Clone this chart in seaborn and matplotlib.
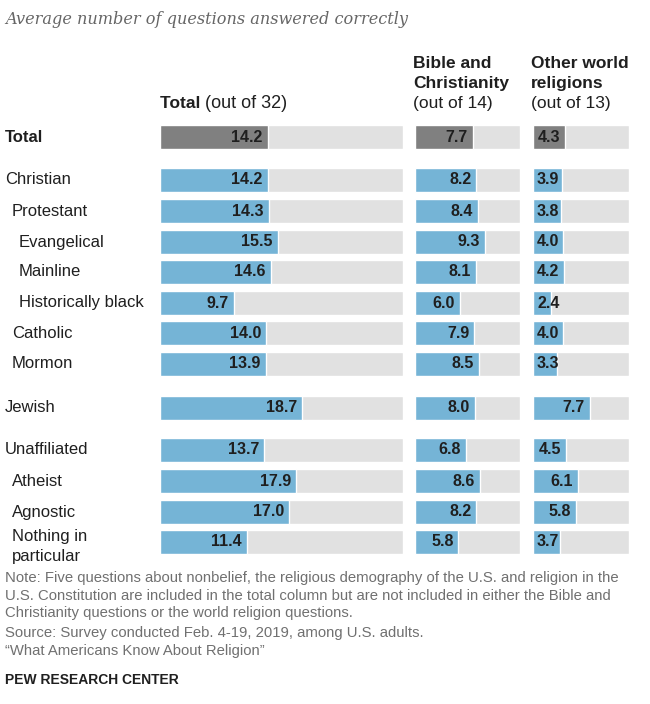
import matplotlib
matplotlib.use("Agg")
import matplotlib.pyplot as plt
import pandas as pd
import seaborn as sns

# data
groups = ["Total", "Christian", "Protestant", "Evangelical", "Mainline",
          "Historically black", "Catholic", "Mormon", "Jewish",
          "Unaffiliated", "Atheist", "Agnostic", "Nothing in\nparticular"]
total_score = [14.2, 14.2, 14.3, 15.5, 14.6, 9.7, 14.0, 13.9, 18.7, 13.7, 17.9, 17.0, 11.4]
bible_score = [7.7, 8.2, 8.4, 9.3, 8.1, 6.0, 7.9, 8.5, 8.0, 6.8, 8.6, 8.2, 5.8]
world_score = [4.3, 3.9, 3.8, 4.0, 4.2, 2.4, 4.0, 3.3, 7.7, 4.5, 6.1, 5.8, 3.7]
out_of = [32, 14, 13]

# layout (pixels from top/left of a 650x704 figure)
row_y = [137, 180, 211, 242, 272, 303, 333, 364, 408, 450, 481, 512, 542]
indent = [5, 5, 12, 19, 19, 19, 12, 12, 5, 5, 12, 12, 12]
cols_px = [(160, 403), (415, 520), (533, 629)]

W, H = 650, 704
BLUE = "#75b4d6"
DARK = "#808080"
BG = "#e1e1e1"
TXT = "#1f1f1f"

sns.set_style("white")
plt.rcParams["font.family"] = ["Liberation Sans", "DejaVu Sans"]

df = pd.DataFrame({"group": groups, "y": row_y,
                   "total": total_score, "bible": bible_score, "world": world_score})
df["kind"] = ["total"] + ["group"] * (len(groups) - 1)
df["full"] = 0.0

fig = plt.figure(figsize=(W / 100, H / 100), dpi=100)


def fx(x):
    return x / W


def fy(y):
    return 1 - y / H


for (x0, x1), col, mx in zip(cols_px, ["total", "bible", "world"], out_of):
    ax = fig.add_axes([fx(x0), 0, (x1 - x0) / W, 1])
    df["full"] = mx
    sns.barplot(data=df, x="full", y="y", orient="h", native_scale=True,
                color=BG, saturation=1, width=0.77, errorbar=None, ax=ax)
    sns.barplot(data=df, x=col, y="y", hue="kind", orient="h", native_scale=True,
                palette={"total": DARK, "group": BLUE}, saturation=1, width=0.77,
                dodge=False, legend=False, errorbar=None, ax=ax)
    ax.set_xlim(0, mx)
    ax.set_ylim(H, 0)
    ax.axis("off")
    px_per = (x1 - x0) / mx
    for v, y in zip(df[col], df["y"]):
        if v * px_per < 30:
            ax.annotate(f"{v:.1f}", xy=(0, y), xytext=(4, 0), textcoords="offset pixels",
                        ha="left", va="center", fontsize=11.5, fontweight="bold", color=TXT)
        else:
            ax.annotate(f"{v:.1f}", xy=(v, y), xytext=(-5, 0), textcoords="offset pixels",
                        ha="right", va="center", fontsize=11.5, fontweight="bold", color=TXT)

# row labels
for g, y, x in zip(groups, row_y, indent):
    if "\n" in g:
        first, second = g.split("\n")
        fig.text(fx(x), fy(y - 6), first, ha="left", va="center", fontsize=12, color=TXT)
        fig.text(fx(x), fy(y + 15), second, ha="left", va="center", fontsize=12, color=TXT)
    else:
        fig.text(fx(x), fy(y), g, ha="left", va="center", fontsize=12, color=TXT,
                 fontweight="bold" if g == "Total" else "normal")

# title
fig.text(fx(5), fy(20), "Average number of questions answered correctly",
         ha="left", va="center", fontsize=11.6, style="italic", color="#666666",
         family="DejaVu Serif")

# column headers
fig.canvas.draw()
r = fig.canvas.get_renderer()
t = fig.text(fx(160), fy(108), "Total ", ha="left", va="baseline", fontsize=12.5,
             fontweight="bold", color=TXT)
tw = t.get_window_extent(r).width
fig.text(fx(160 + tw), fy(108), "(out of 32)", ha="left", va="baseline", fontsize=13, color=TXT)

for x, head, sub in [(413, ["Bible and", "Christianity"], "(out of 14)"),
                     (531, ["Other world", "religions"], "(out of 13)")]:
    fig.text(fx(x), fy(68), head[0], ha="left", va="baseline", fontsize=12.5,
             fontweight="bold", color=TXT)
    fig.text(fx(x), fy(88), head[1], ha="left", va="baseline", fontsize=12.5,
             fontweight="bold", color=TXT)
    fig.text(fx(x), fy(108), sub, ha="left", va="baseline", fontsize=12.5, color=TXT)

# notes
notes = [
    "Note: Five questions about nonbelief, the religious demography of the U.S. and religion in the",
    "U.S. Constitution are included in the total column but are not included in either the Bible and",
    "Christianity questions or the world religion questions.",
    "Source: Survey conducted Feb. 4-19, 2019, among U.S. adults.",
    "\u201cWhat Americans Know About Religion\u201d",
]
for line, y in zip(notes, [578, 596, 613, 633, 651]):
    fig.text(fx(5), fy(y), line, ha="left", va="center", fontsize=10.7, color="#707070")

fig.text(fx(5), fy(680), "PEW RESEARCH CENTER", ha="left", va="center", fontsize=10,
         fontweight="bold", color=TXT)

fig.savefig("out.png", dpi=100)
